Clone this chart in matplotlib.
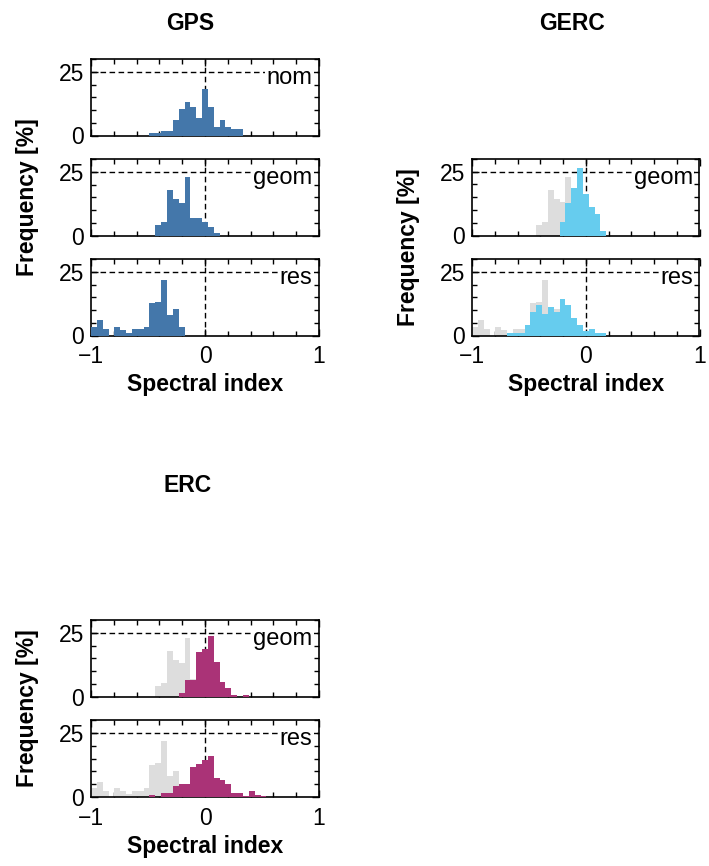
import numpy as np
import matplotlib
matplotlib.use('Agg')
from matplotlib import pyplot as plt
from matplotlib.ticker import MultipleLocator
from matplotlib import rcParams
rcParams['font.family'] = 'Liberation Sans'

W, H = 709, 866

# 39 bins between -1 and 1
edges = np.linspace(-1, 1, 40)

gps_nom = [0]*10 + [0.9, 0.9, 1.7, 1.7, 5.9, 10.2, 13.3, 11.0, 6.8, 18.4, 11.0, 3.4, 5.9, 3.4, 2.4, 2.4] + [0]*13
gps_geom = [0]*11 + [4.1, 5.4, 17.9, 14.4, 13.0, 22.9, 7.0, 7.0, 5.4, 3.4, 1.0] + [0]*17
gps_res = [3.4, 5.9, 2.4, 0, 3.4, 2.2, 1.0, 2.4, 2.4, 3.4, 12.6, 13.3, 21.8, 8.2, 10.2, 3.4] + [0]*23
gerc_geom = [0]*15 + [5.2, 12.8, 18.5, 26.4, 16.2, 11.0, 8.4, 1.7] + [0]*16
gerc_res = [0]*6 + [1.0, 1.0, 1.0, 4.2, 9.3, 12.0, 8.6, 11.3, 9.3, 14.4, 12.0, 6.9, 4.2, 1.8, 2.6, 1.0, 1.0] + [0]*16
erc_geom = [0]*15 + [1.3, 6.4, 6.4, 17.3, 18.5, 23.6, 13.4, 5.5, 3.4, 0.5, 0, 0.5] + [0]*12
erc_res = [0]*10 + [0.8, 0, 1.6, 1.6, 4.3, 5.1, 5.1, 11.7, 12.9, 14.5, 16.0, 7.4, 6.6, 5.1, 1.6, 1.6, 0.5, 2.3, 0.8, 0.3] + [0]*9

grey = '#dddddd'
blue = '#4477aa'
cyan = '#66ccee'
purple = '#aa3377'

fig = plt.figure(figsize=(W/100, H/100), dpi=100)


def px_axes(left, top, right, bottom):
    return fig.add_axes([left/W, 1 - bottom/H, (right - left)/W, (bottom - top)/H])


def panel(ax, counts, color, label, back=None, xlabels=False):
    ax.axhline(25, color='k', ls=(0, (4, 2.5)), lw=1, zorder=1)
    ax.axvline(0, color='k', ls=(0, (4, 2.5)), lw=1, zorder=1)
    if back is not None:
        ax.stairs(back, edges, fill=True, color=grey, lw=1.2, zorder=2)
    ax.stairs(counts, edges, fill=True, color=color, lw=1.2, zorder=3)
    ax.set_xlim(-1, 1)
    ax.set_ylim(0, 30)
    ax.set_xticks([-1, 0, 1])
    ax.set_yticks([0, 25])
    ax.xaxis.set_minor_locator(MultipleLocator(0.2))
    ax.yaxis.set_minor_locator(MultipleLocator(5))
    ax.tick_params(which='both', direction='in', top=True, right=True,
                   labelsize=16.5, width=1)
    ax.tick_params(axis='y', pad=5)
    ax.tick_params(axis='x', pad=7)
    ax.tick_params(which='major', length=5)
    ax.tick_params(which='minor', length=3.5)
    for s in ax.spines.values():
        s.set_linewidth(1.2)
    if not xlabels:
        ax.tick_params(labelbottom=False)
    ax.text(0.97, 20.3, label, transform=ax.get_yaxis_transform(), ha='right',
            va='baseline', fontsize=17, zorder=5,
            bbox=dict(facecolor='white', edgecolor='none', pad=1))


# GPS
panel(px_axes(91, 59, 319, 135.5), gps_nom, blue, 'nom')
panel(px_axes(91, 159, 319, 236), gps_geom, blue, 'geom')
panel(px_axes(91, 259, 319, 335.5), gps_res, blue, 'res', xlabels=True)

# GERC
panel(px_axes(472, 159, 699.5, 235.5), gerc_geom, cyan, 'geom', back=gps_geom)
panel(px_axes(472, 259, 699.5, 335.5), gerc_res, cyan, 'res', back=gps_res, xlabels=True)

# ERC
panel(px_axes(91, 620, 319, 696.5), erc_geom, purple, 'geom', back=gps_geom)
panel(px_axes(91, 720, 319, 797), erc_res, purple, 'res', back=gps_res, xlabels=True)

lab = dict(fontsize=16.5, fontweight='bold', ha='center', va='center')
fig.text(190/W, 1 - 24/H, 'GPS', **lab)
fig.text(572/W, 1 - 24/H, 'GERC', **lab)
fig.text(188/W, 1 - 486/H, 'ERC', **lab)

fig.text(205/W, 1 - 385/H, 'Spectral index', **lab)
fig.text(586/W, 1 - 385/H, 'Spectral index', **lab)
fig.text(205/W, 1 - 847/H, 'Spectral index', **lab)

fig.text(28/W, 1 - 197/H, 'Frequency [%]', rotation=90, **lab)
fig.text(409/W, 1 - 247/H, 'Frequency [%]', rotation=90, **lab)
fig.text(28/W, 1 - 708/H, 'Frequency [%]', rotation=90, **lab)

fig.savefig('out.png', dpi=100, facecolor='white')
